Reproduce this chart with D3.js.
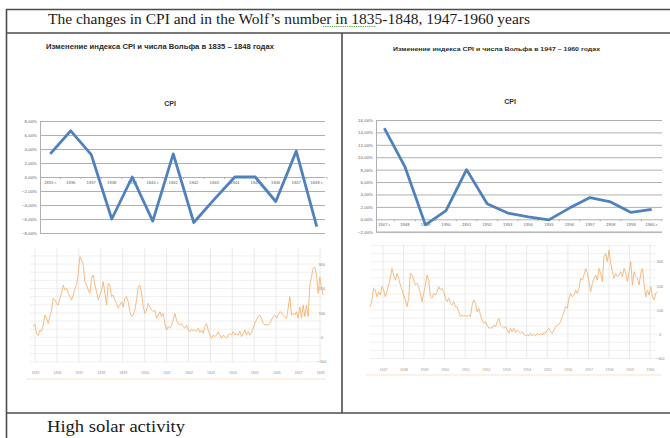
<!DOCTYPE html>
<html>
<head>
<meta charset="utf-8">
<script src="https://cdn.jsdelivr.net/npm/d3@7"></script>
<style>
  body { margin: 0; background: #fff }
  svg { display: block }
</style>
</head>
<body>
<svg id="chart" width="670" height="438"></svg>
<script>
const cpiYearsA = ["1835 г.", "1836", "1837", "1838", "1839", "1840 г.", "1841", "1842", "1843", "1844", "1845", "1846", "1847", "1848 г."]
const cpiA = [3.3, 6.6, 3.2, -6.0, 0.0, -6.3, 3.3, -6.5, -3.2, 0.0, 0.0, -3.5, 3.7, -7.1]
const cpiTicksA = [-8, -6, -4, -2, 0, 2, 4, 6, 8]

const cpiYearsB = ["1947 г.", "1948", "1949", "1950", "1951", "1952", "1953", "1954", "1955", "1956", "1957", "1958", "1959", "1960 г."]
const cpiB = [14.7, 8.5, -0.9, 1.4, 8.0, 2.5, 1.0, 0.4, -0.1, 1.8, 3.5, 2.8, 1.1, 1.6]
const cpiTicksB = [-2, 0, 2, 4, 6, 8, 10, 12, 14, 16]

const wolfYearsA = [1835, 1836, 1837, 1838, 1839, 1840, 1841, 1842, 1843, 1844, 1845, 1846, 1847, 1848]
const wolfYearsB = [1947, 1948, 1949, 1950, 1951, 1952, 1953, 1954, 1955, 1956, 1957, 1958, 1959, 1960]
const wolfTicks = [-100, 0, 100, 200, 300]

// monthly-ish Wolf numbers
const wolfStartA = 1834.92, wolfStepA = 0.076
const wolfA = [44, 53, 16, 7, 30, 23, 50, 91, 78, 57, 85, 112, 160, 153, 139, 132, 160, 180, 214, 194,
  201, 180, 167, 153, 173, 201, 214, 262, 330, 317, 296, 228, 214, 194, 180, 242, 255, 214, 187, 153,
  173, 194, 228, 180, 132, 221, 214, 167, 173, 153, 139, 119, 132, 146, 125, 160, 167, 146, 105, 85,
  91, 112, 153, 208, 214, 180, 125, 98, 112, 139, 125, 112, 105, 112, 78, 91, 105, 85, 98, 57,
  30, 44, 37, 50, 71, 98, 71, 57, 50, 57, 44, 37, 50, 30, 23, 34, 26, 30, 23, 37,
  20, 30, 16, 44, 57, 30, 9, -4, 9, 3, 9, 23, 9, -4, 9, 3, -4, 9, 16, 9,
  23, 9, 16, 9, 26, 3, 16, 30, 9, 23, 9, 20, 37, 57, 71, 85, 91, 78, 57, 50,
  53, 50, 57, 71, 85, 91, 78, 91, 105, 102, 91, 85, 78, 119, 167, 91, 98, 91, 105, 78,
  125, 78, 132, 85, 132, 85, 214, 248, 283, 289, 255, 180, 248, 201, 173]

const wolfStartB = 1946.38, wolfStepB = 0.0813
const wolfB = [114, 142, 190, 183, 155, 176, 162, 197, 183, 155, 176, 204, 231, 272, 245, 224, 252, 231, 204, 183,
  162, 142, 114, 149, 252, 245, 224, 204, 211, 197, 169, 135, 169, 204, 245, 224, 155, 149, 169, 162,
  176, 197, 183, 190, 176, 149, 135, 149, 128, 121, 135, 114, 114, 93, 73, 80, 73, 80, 73, 80,
  73, 121, 142, 128, 93, 107, 80, 59, 45, 52, 38, 25, 27, 25, 38, 31, 52, 66, 38, 31,
  25, 31, 18, 4, 25, 11, 25, 8, 18, 11, 4, 11, 0, -7, -3, -7, 4, -7, 0, -6,
  4, -3, 4, -3, 8, 4, 18, 25, 11, 4, 18, 31, 38, 41, 52, 73, 93, 114, 107, 149,
  169, 155, 162, 183, 169, 190, 231, 224, 245, 272, 252, 217, 176, 211, 231, 245, 224, 272, 252, 217,
  321, 334, 300, 348, 293, 259, 231, 252, 238, 245, 259, 238, 272, 252, 217, 259, 300, 204, 259, 238,
  231, 204, 252, 272, 204, 155, 183, 162, 197, 155, 142, 169, 176]

const svg = d3.select("#chart")
const sans = "'Liberation Sans', Arial, sans-serif"
const serif = "'Liberation Serif', 'DejaVu Serif', serif"

function drawCpiChart(cfg) {
  const g = svg.append("g")
  const x = d3.scalePoint().domain(cfg.labels).range(cfg.band).padding(0.5)
  const y = d3.scaleLinear().domain(d3.extent(cfg.ticks)).range([cfg.bottom, cfg.top])

  g.append("g")
    .attr("transform", `translate(${cfg.gridLeft},0)`)
    .call(d3.axisLeft(y).tickValues(cfg.ticks).tickSize(-(cfg.gridRight - cfg.gridLeft))
      .tickFormat(d => d3.format(".2f")(d).replace(".", ",") + "%"))
    .call(a => a.select(".domain").attr("stroke", "#b0b0b0"))
    .call(a => a.selectAll(".tick line").attr("stroke", "#b0b0b0").attr("stroke-width", 1))
    .call(a => a.selectAll(".tick text").attr("x", -3).attr("fill", "#666")
      .style("font", `4.4px ${sans}`))

  // category axis sits on the 0 line
  const step = x.step()
  g.append("g").selectAll("line")
    .data(cfg.labels)
    .join("line")
      .attr("x1", d => x(d) + step / 2).attr("x2", d => x(d) + step / 2)
      .attr("y1", y(0)).attr("y2", y(0) + 2)
      .attr("stroke", "#b0b0b0")
  g.append("g").selectAll("text")
    .data(cfg.labels)
    .join("text")
      .attr("x", d => x(d))
      .attr("y", y(0) + 7)
      .attr("text-anchor", "middle")
      .attr("fill", "#666")
      .style("font", `4.2px ${sans}`)
      .text(d => d)

  const line = d3.line()
    .x((d, i) => x(cfg.labels[i]))
    .y(d => y(d))
  g.append("path")
    .datum(cfg.values)
    .attr("fill", "none")
    .attr("stroke", "#4f81bd")
    .attr("stroke-width", 2.8)
    .attr("stroke-linejoin", "round")
    .attr("d", line)

  g.append("text")
    .attr("x", cfg.titleX).attr("y", cfg.titleY)
    .attr("text-anchor", "middle")
    .attr("fill", "#333")
    .style("font", `bold 7px ${sans}`)
    .text("CPI")
}

function drawWolfChart(cfg) {
  const g = svg.append("g")
  const x = d3.scaleLinear().domain(d3.extent(cfg.years)).range(cfg.xRange)
  const y = d3.scaleLinear().domain([0, 300]).range(cfg.yRange)

  const minor = d3.range(-100, cfg.yMax, 100 / 3)
  g.append("g").selectAll("line")
    .data(minor)
    .join("line")
      .attr("x1", cfg.gridLeft).attr("x2", cfg.gridRight)
      .attr("y1", d => y(d)).attr("y2", d => y(d))
      .attr("stroke", "#ececec").attr("stroke-width", 0.8)
  g.append("g").selectAll("line")
    .data(cfg.years)
    .join("line")
      .attr("x1", d => x(d)).attr("x2", d => x(d))
      .attr("y1", y(cfg.yMax)).attr("y2", y(-100))
      .attr("stroke", "#e4e4e4").attr("stroke-width", 0.8)

  g.append("g")
    .attr("transform", `translate(0,${cfg.labelY})`)
    .call(d3.axisBottom(x).tickValues(cfg.years).tickSize(0).tickFormat(d3.format("d")))
    .call(a => a.select(".domain").remove())
    .call(a => a.selectAll(".tick text").attr("fill", "#999").style("font", `3.6px ${sans}`))

  g.append("g")
    .attr("transform", `translate(${cfg.axisX},0)`)
    .call(d3.axisRight(y).tickValues(wolfTicks).tickSize(0))
    .call(a => a.select(".domain").remove())
    .call(a => a.selectAll(".tick text").attr("x", 0).attr("text-anchor", "middle")
      .attr("fill", "#888").style("font", `3.8px ${sans}`))

  const line = d3.line()
    .x((d, i) => x(cfg.start + i * cfg.step))
    .y(d => y(d))
  g.append("path")
    .datum(cfg.values)
    .attr("fill", "none")
    .attr("stroke", "#f5b06c")
    .attr("stroke-width", 1)
    .attr("stroke-opacity", 0.85)
    .attr("d", line)

  g.append("line")
    .attr("x1", cfg.gridLeft - 4).attr("x2", cfg.gridRight + 4)
    .attr("y1", cfg.navY).attr("y2", cfg.navY)
    .attr("stroke", "#fbe3cc").attr("stroke-width", 1)
}

// table frame
const frame = svg.append("g").attr("stroke", "#4d4d4d").attr("stroke-width", 1.6)
frame.append("line").attr("x1", 6).attr("x2", 670).attr("y1", 9.5).attr("y2", 9.5)
frame.append("line").attr("x1", 6).attr("x2", 670).attr("y1", 33).attr("y2", 33)
frame.append("line").attr("x1", 6).attr("x2", 670).attr("y1", 413).attr("y2", 413)
frame.append("line").attr("x1", 6.5).attr("x2", 6.5).attr("y1", 9).attr("y2", 438)
frame.append("line").attr("x1", 342).attr("x2", 342).attr("y1", 33).attr("y2", 413)

svg.append("text")
  .attr("x", 48).attr("y", 24)
  .attr("textLength", 482).attr("lengthAdjust", "spacingAndGlyphs")
  .attr("fill", "#1a1a1a")
  .style("font", `15px ${serif}`)
  .text("The changes in CPI and in the Wolf\u2019s number in  1835-1848, 1947-1960 years")
svg.append("line")
  .attr("x1", 323).attr("x2", 376).attr("y1", 26.5).attr("y2", 26.5)
  .attr("stroke", "#5aa843").attr("stroke-width", 1.2).attr("stroke-dasharray", "1.2,1")

svg.append("text")
  .attr("x", 47).attr("y", 432)
  .attr("textLength", 138).attr("lengthAdjust", "spacingAndGlyphs")
  .attr("fill", "#1a1a1a")
  .style("font", `16.5px ${serif}`)
  .text("High solar activity")

svg.append("text")
  .attr("x", 46).attr("y", 49)
  .attr("textLength", 228).attr("lengthAdjust", "spacingAndGlyphs")
  .attr("fill", "#2a2a2a")
  .style("font", `bold 6.5px ${sans}`)
  .text("Изменение индекса CPI и числа Вольфа в 1835 – 1848 годах")
svg.append("text")
  .attr("x", 393).attr("y", 51)
  .attr("textLength", 207).attr("lengthAdjust", "spacingAndGlyphs")
  .attr("fill", "#2a2a2a")
  .style("font", `bold 6px ${sans}`)
  .text("Изменение индекса CPI и числа Вольфа в 1947 – 1960  годах")

drawCpiChart({
  labels: cpiYearsA, values: cpiA, ticks: cpiTicksA,
  band: [40, 327], top: 121, bottom: 233,
  gridLeft: 40, gridRight: 325,
  titleX: 170, titleY: 106
})
drawCpiChart({
  labels: cpiYearsB, values: cpiB, ticks: cpiTicksB,
  band: [374, 662], top: 120, bottom: 231.7,
  gridLeft: 376, gridRight: 662,
  titleX: 510, titleY: 104
})

drawWolfChart({
  years: wolfYearsA, values: wolfA, start: wolfStartA, step: wolfStepA,
  xRange: [35, 320], yRange: [337.3, 264.1], yMax: 366,
  gridLeft: 30, gridRight: 322, axisX: 322, labelY: 368, navY: 379
})
drawWolfChart({
  years: wolfYearsB, values: wolfB, start: wolfStartB, step: wolfStepB,
  xRange: [383, 650], yRange: [334.3, 261.7], yMax: 370,
  gridLeft: 370, gridRight: 657, axisX: 660, labelY: 365, navY: 375
})
</script>
</body>
</html>
